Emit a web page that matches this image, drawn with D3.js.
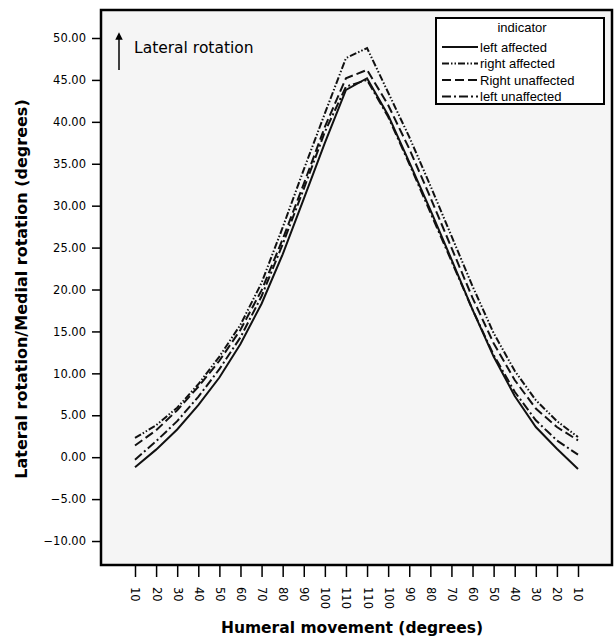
<!DOCTYPE html>
<html>
<head>
<meta charset="utf-8">
<script src="https://cdn.jsdelivr.net/npm/d3@7"></script>
<style>
  body { margin: 0; background: #fff; }
</style>
</head>
<body>
<div id="chart-area"></div>
<script>
// data
const xLabels = ["10","20","30","40","50","60","70","80","90","100","110",
                 "110","100","90","80","70","60","50","40","30","20","10"]
const seriesNames = ["left affected", "right affected", "Right unaffected", "left unaffected"]
const leftAffected = [-1.2, 0.9, 3.3, 6.2, 9.5, 13.5, 18.3, 24.2, 30.8, 37.5, 43.8,
                      45.2, 40.8, 35.2, 29.5, 23.6, 17.6, 12.0, 7.3, 3.6, 1.0, -1.4]
const rightAffected = [2.3, 3.8, 5.9, 8.7, 12.0, 15.8, 20.8, 27.4, 34.3, 41.0, 47.6,
                       48.8, 43.5, 38.2, 32.4, 26.4, 20.4, 14.8, 10.3, 6.8, 4.3, 2.4]
const rightUnaffected = [1.4, 3.2, 5.6, 8.4, 11.5, 15.2, 19.9, 26.0, 32.6, 39.4, 45.2,
                         46.2, 42.0, 36.8, 31.0, 25.0, 19.0, 13.6, 9.2, 5.8, 3.6, 2.0]
const leftUnaffected = [-0.3, 1.9, 4.3, 7.2, 10.5, 14.3, 19.2, 25.4, 32.0, 38.8, 44.2,
                        45.0, 40.6, 35.0, 29.2, 23.4, 17.6, 12.2, 7.8, 4.4, 2.0, 0.3]
const yTicks = [-10, -5, 0, 5, 10, 15, 20, 25, 30, 35, 40, 45, 50]

const allSeries = [leftAffected, rightAffected, rightUnaffected, leftUnaffected]
const dashes = ["none", "7,2,1.5,2,1.5,2", "9,4", "9,3,2,3"]

const MARGIN = { left: 101, top: 10, right: 2, bottom: 77 }
const WIDTH = 614 - MARGIN.left - MARGIN.right
const HEIGHT = 642 - MARGIN.top - MARGIN.bottom

const svg = d3.select("#chart-area")
  .append("svg")
  .attr("width", 614)
  .attr("height", 642)
  .attr("font-family", "Liberation Sans, Arial, sans-serif")

const g = svg.append("g")
  .attr("transform", `translate(${MARGIN.left}, ${MARGIN.top})`)

// plot background
g.append("rect")
  .attr("width", WIDTH)
  .attr("height", HEIGHT)
  .attr("fill", "#f5f5f5")

const x = d3.scalePoint()
  .domain(d3.range(xLabels.length))
  .range([34, WIDTH - 34])

const y = d3.scaleLinear()
  .domain([-12.86, 53.34])
  .range([HEIGHT, 0])

// X axis
const xAxisCall = d3.axisBottom(x)
  .tickSize(12)
  .tickFormat(i => xLabels[i])
const xAxis = g.append("g")
  .attr("transform", `translate(0, ${HEIGHT})`)
  .call(xAxisCall)
xAxis.select(".domain").remove()
xAxis.selectAll("line").attr("stroke", "#000").attr("stroke-width", 1.5)
xAxis.selectAll("text")
  .attr("transform", "rotate(90)")
  .attr("x", 22)
  .attr("y", 0)
  .attr("dy", "0.35em")
  .attr("text-anchor", "start")
  .attr("font-family", "DejaVu Sans")
  .attr("font-size", "11.5px")
  .attr("fill", "#000")

// Y axis
const yAxisCall = d3.axisLeft(y)
  .tickValues(yTicks)
  .tickSize(9)
  .tickFormat(d3.format(".2f"))
const yAxis = g.append("g").call(yAxisCall)
yAxis.select(".domain").remove()
yAxis.selectAll("line").attr("stroke", "#000").attr("stroke-width", 1.5)
yAxis.selectAll("text")
  .attr("x", -15)
  .attr("font-family", "DejaVu Sans")
  .attr("font-size", "11.5px")
  .attr("fill", "#000")

// frame
g.append("rect")
  .attr("width", WIDTH)
  .attr("height", HEIGHT)
  .attr("fill", "none")
  .attr("stroke", "#000")
  .attr("stroke-width", 2.5)

// lines
const line = d3.line()
  .x((d, i) => x(i))
  .y(d => y(d))

g.selectAll(".series")
  .data(allSeries)
  .enter().append("path")
  .attr("class", "series")
  .attr("d", line)
  .attr("fill", "none")
  .attr("stroke", "#111")
  .attr("stroke-width", 2)
  .attr("stroke-dasharray", (d, i) => dashes[i])

// annotation arrow
svg.append("defs").append("marker")
  .attr("id", "arrow")
  .attr("viewBox", "0 0 10 10")
  .attr("refX", 5)
  .attr("refY", 5)
  .attr("markerWidth", 5)
  .attr("markerHeight", 6)
  .attr("orient", "auto")
  .append("path")
  .attr("d", "M0,0 L10,5 L0,10 Z")
  .attr("fill", "#000")

svg.append("line")
  .attr("x1", 119).attr("y1", 70)
  .attr("x2", 119).attr("y2", 36)
  .attr("stroke", "#000")
  .attr("stroke-width", 1.5)
  .attr("marker-end", "url(#arrow)")

svg.append("text")
  .attr("x", 134)
  .attr("y", 53)
  .attr("font-family", "DejaVu Sans")
  .attr("font-size", "15.5px")
  .text("Lateral rotation")

// legend
const legend = svg.append("g")
  .attr("transform", "translate(436, 18)")

legend.append("rect")
  .attr("width", 168)
  .attr("height", 86)
  .attr("fill", "#fff")
  .attr("stroke", "#000")
  .attr("stroke-width", 2)

legend.append("text")
  .attr("x", 86)
  .attr("y", 14)
  .attr("text-anchor", "middle")
  .attr("font-size", "13px")
  .text("indicator")

seriesNames.forEach((name, i) => {
  const row = legend.append("g")
    .attr("transform", `translate(0, ${29 + i * 16.5})`)
  row.append("line")
    .attr("x1", 6).attr("x2", 42)
    .attr("y1", 0).attr("y2", 0)
    .attr("stroke", "#111")
    .attr("stroke-width", 1.8)
    .attr("stroke-dasharray", dashes[i])
  row.append("text")
    .attr("x", 44)
    .attr("y", 4.5)
    .attr("font-size", "13px")
    .text(name)
})

// Y label
svg.append("text")
  .attr("x", -289)
  .attr("y", 27)
  .attr("font-family", "DejaVu Sans")
  .attr("font-size", "16px")
  .attr("font-weight", "bold")
  .attr("text-anchor", "middle")
  .attr("transform", "rotate(-90)")
  .text("Lateral rotation/Medial rotation (degrees)")

// X label
svg.append("text")
  .attr("x", 352)
  .attr("y", 633)
  .attr("font-family", "DejaVu Sans")
  .attr("font-size", "15.5px")
  .attr("font-weight", "bold")
  .attr("text-anchor", "middle")
  .text("Humeral movement (degrees)")
</script>
</body>
</html>
